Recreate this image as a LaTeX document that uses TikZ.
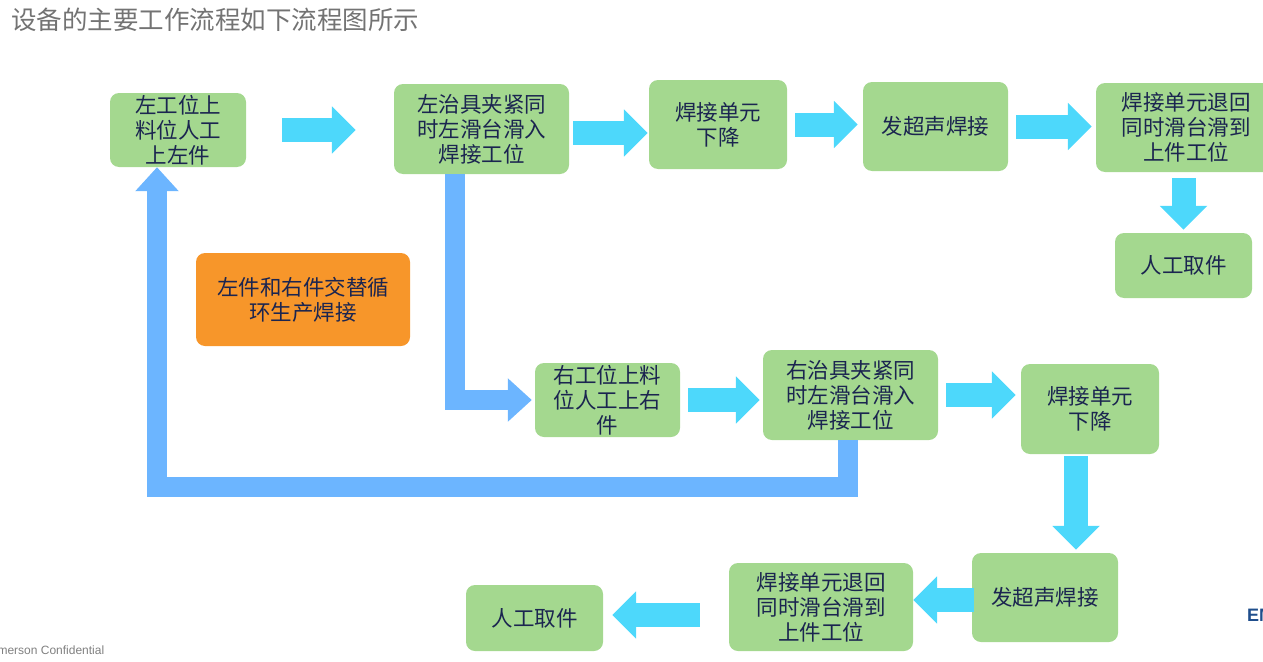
\documentclass[tikz,border=0pt]{standalone}
\usepackage{fontspec}
\setmainfont{Noto Sans CJK SC}
\newfontfamily\latn{Liberation Sans}
\usetikzlibrary{arrows.meta,calc}
\definecolor{gbox}{HTML}{A4D88F}
\definecolor{obox}{HTML}{F7962A}
\definecolor{cyanA}{HTML}{4DD8FB}
\definecolor{blueA}{HTML}{6CB5FF}
\definecolor{txt}{HTML}{1B2550}
\definecolor{logoc}{HTML}{1F4E8C}
\begin{document}
\begin{tikzpicture}[x=1pt,y=-1pt,
  box/.style={fill=gbox,rounded corners=9pt,inner sep=0pt,text=txt,align=center,font=\fontsize{21.5}{25}\selectfont},
  blk/.style={cyanA,line width=24pt,-{Triangle[length=24pt 0,width=46pt 0]}},
  blu/.style={blueA,line width=20pt,-{Triangle[length=24pt 0,width=42pt 0]}}]
\useasboundingbox (0,0) rectangle (1263,661);
\begin{scope}
\clip (0,0) rectangle (1263,661);
\node[anchor=west,text=gray!90!black,font=\fontsize{25.5}{29}\selectfont,inner sep=0pt] (title) at (11,20) {设备的主要工作流程如下流程图所示};
\node[anchor=west,text=gray,font=\latn\fontsize{12}{14}\selectfont] (conf) at (-14,650) {Emerson Confidential};
\node[anchor=west,text=logoc,font=\latn\bfseries\fontsize{18}{20}\selectfont,inner sep=0pt] (logo) at (1247,615) {EMERSON};
\node[box,minimum width=136pt,minimum height=74pt] (A) at (178,130) {左工位上\\料位人工\\上左件};
\node[box,minimum width=175pt,minimum height=90pt] (B) at (481.5,129) {左治具夹紧同\\时左滑台滑入\\焊接工位};
\node[box,minimum width=138pt,minimum height=89pt] (C) at (718,124.5) {焊接单元\\下降};
\node[box,minimum width=145pt,minimum height=89pt] (D) at (935.5,126.5) {发超声焊接};
\node[box,minimum width=180pt,minimum height=89pt] (E) at (1186,127.5) {焊接单元退回\\同时滑台滑到\\上件工位};
\node[box,minimum width=137pt,minimum height=65pt] (F) at (1183.5,265.5) {人工取件};
\node[box,fill=obox,minimum width=214pt,minimum height=93pt] (G) at (303,299.5) {左件和右件交替循\\环生产焊接};
\node[box,minimum width=145pt,minimum height=74pt] (H) at (607.5,400) {右工位上料\\位人工上右\\件};
\node[box,minimum width=175pt,minimum height=90pt] (I) at (850.5,395) {右治具夹紧同\\时左滑台滑入\\焊接工位};
\node[box,minimum width=138pt,minimum height=90pt] (J) at (1090,409) {焊接单元\\下降};
\node[box,minimum width=146pt,minimum height=89pt] (K) at (1045,597.5) {发超声焊接};
\node[box,minimum width=184pt,minimum height=88pt] (L) at (821,607) {焊接单元退回\\同时滑台滑到\\上件工位};
\node[box,minimum width=137pt,minimum height=66pt] (M) at (534.5,618) {人工取件};
\end{scope}
\draw[blk,shorten <=36pt,shorten >=38pt] (A.east) -- (A.east -| B.west);
\draw[blk,shorten <=4pt,shorten >=1pt] ([yshift=-4pt]B.east) -- ([yshift=-4pt]B.east -| C.west);
\draw[blk,shorten <=8pt,shorten >=5pt] (C.east) -- (C.east -| D.west);
\draw[blk,shorten <=8pt,shorten >=4pt] (D.east) -- (D.east -| E.west);
\draw[blk,shorten <=6pt,shorten >=3pt] (E.south -| F.north) -- (F.north);
\draw[blk,shorten <=8pt,shorten >=3pt] (H.east) -- (H.east -| I.west);
\draw[blk,shorten <=8pt,shorten >=5pt] (I.east) -- (I.east -| J.west);
\draw[blk,shorten <=2pt,shorten >=3pt] ([xshift=-14pt]J.south) -- ([xshift=-14pt]J.south |- K.north);
\draw[blk,shorten <=-2pt] (K.west |- 0,600) -- (L.east |- 0,600);
\draw[blk,shorten <=29pt,shorten >=9pt] (L.west |- 0,615) -- (M.east |- 0,615);
\draw[blu] (B.south -| 455,0) -- (455,400) -- ([xshift=-3pt]H.west |- 0,400);
\draw[blu] (I.south -| 848,0) -- (848,487) -- (157,487) -- (A.south -| 157,0);
\end{tikzpicture}
\end{document}
